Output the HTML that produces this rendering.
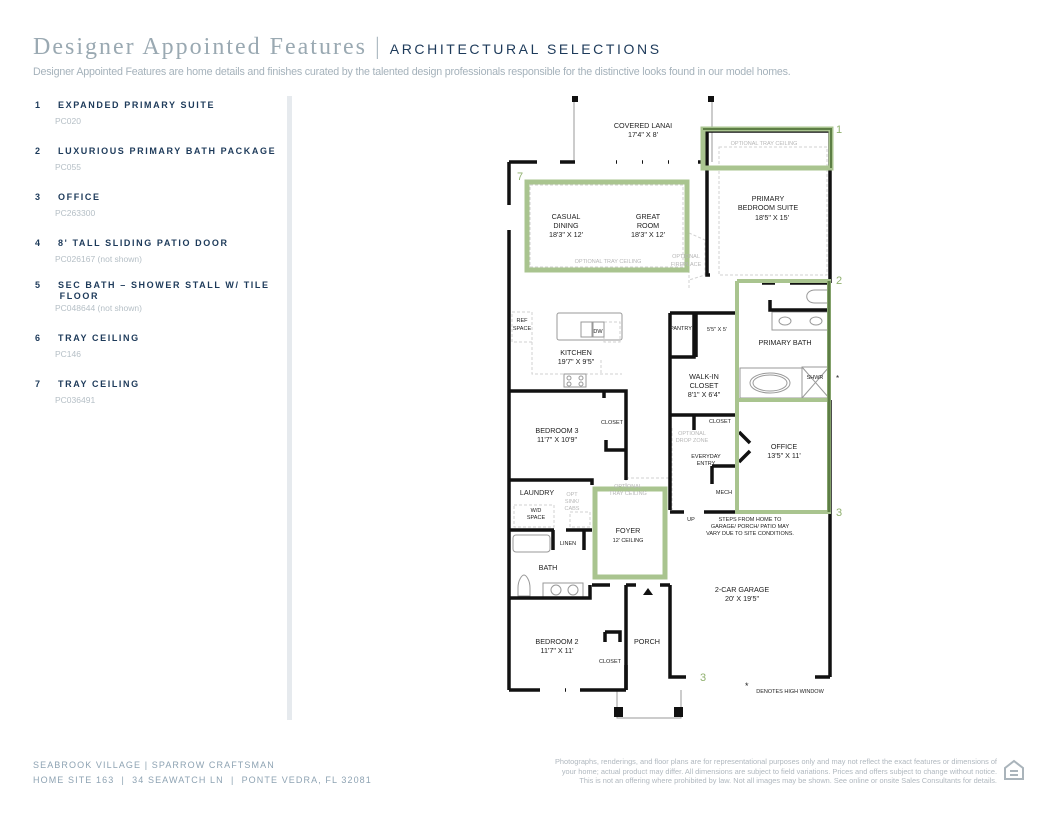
<!DOCTYPE html>
<html><head><meta charset="utf-8"><style>
body{margin:0;background:#fff;width:1055px;height:815px;overflow:hidden;position:relative;font-family:"Liberation Sans",sans-serif}
.t{position:absolute;white-space:nowrap}
.h{font-family:"Liberation Serif",serif;font-size:24px;color:#9aa9b2;letter-spacing:2px;left:33px;top:34px}
.h2{font-family:"Liberation Sans",sans-serif;font-size:14px;color:#1d3a5a;letter-spacing:2.6px}
.sub{left:33px;top:66px;font-size:10.7px;color:#a5b2bb;letter-spacing:-0.2px}
.n{font-size:9px;font-weight:bold;color:#1d3a5a;letter-spacing:1.6px;left:35px}
.c{font-size:8.5px;color:#b5bfc6;left:55px}
.f{font-size:9px;color:#8ea3b3;letter-spacing:1.1px;left:33px}
.d{font-size:7.4px;color:#b0b8bf;right:58px;text-align:right}
</style></head><body>
<div class="t h">Designer Appointed Features <span style="color:#b0bcc4">|</span> <span class="h2">ARCHITECTURAL SELECTIONS</span></div>
<div class="t sub">Designer Appointed Features are home details and finishes curated by the talented design professionals responsible for the distinctive looks found in our model homes.</div>

<div class="t n" style="top:100px">1&nbsp;&nbsp;&nbsp;&nbsp;EXPANDED PRIMARY SUITE</div><div class="t c" style="top:116px">PC020</div>
<div class="t n" style="top:146px">2&nbsp;&nbsp;&nbsp;&nbsp;LUXURIOUS PRIMARY BATH PACKAGE</div><div class="t c" style="top:162px">PC055</div>
<div class="t n" style="top:192px">3&nbsp;&nbsp;&nbsp;&nbsp;OFFICE</div><div class="t c" style="top:208px">PC263300</div>
<div class="t n" style="top:238px">4&nbsp;&nbsp;&nbsp;&nbsp;8' TALL SLIDING PATIO DOOR</div><div class="t c" style="top:254px">PC026167 (not shown)</div>
<div class="t n" style="top:280px;line-height:11px">5&nbsp;&nbsp;&nbsp;&nbsp;SEC BATH – SHOWER STALL W/ TILE<br>&nbsp;&nbsp;&nbsp;&nbsp;&nbsp;&nbsp;FLOOR</div><div class="t c" style="top:303px">PC048644 (not shown)</div>
<div class="t n" style="top:333px">6&nbsp;&nbsp;&nbsp;&nbsp;TRAY CEILING</div><div class="t c" style="top:349px">PC146</div>
<div class="t n" style="top:379px">7&nbsp;&nbsp;&nbsp;&nbsp;TRAY CEILING</div><div class="t c" style="top:395px">PC036491</div>
<div style="position:absolute;left:287px;top:96px;width:5px;height:624px;background:#e6eaee"></div>

<svg style="position:absolute;left:0;top:0" width="1055" height="815" font-family="Liberation Sans,sans-serif">
<g fill="none" stroke="#d2d2d2" stroke-dasharray="3,2" stroke-width="1">
<rect x="719" y="147" width="108" height="128"/>
<rect x="530" y="185" width="153" height="82"/>
<rect x="512" y="312" width="20" height="30"/>
<path d="M532 342V374H622M601 360V374"/>
<path d="M689 205V290M689 233L705 240V275L689 280"/>
<path d="M672 428V510M626 478H670M626 478V487"/>
<rect x="514" y="505" width="40" height="22"/>
<path d="M570 512H590V527H570Z"/>
<rect x="604" y="322" width="16" height="20"/>
</g>
<g fill="none" stroke="#999" stroke-width="1">
<path d="M574 100V162M712 100V162"/>
<path d="M617 690V718H681V690"/>
<rect x="557" y="313" width="65" height="27" rx="2"/>
<rect x="581" y="322" width="11" height="15"/><rect x="593" y="322" width="11" height="15"/>
<rect x="564" y="374" width="22" height="13"/>
<circle cx="569" cy="378" r="2"/><circle cx="581" cy="378" r="2"/><circle cx="569" cy="384" r="2"/><circle cx="581" cy="384" r="2"/>
<rect x="772" y="312" width="56" height="18"/><ellipse cx="785" cy="321" rx="6" ry="4"/><ellipse cx="816" cy="321" rx="6" ry="4"/>
<path d="M828 290H815C804 290 804 303 815 303H828"/>
<rect x="740" y="368" width="62" height="30"/><ellipse cx="770" cy="383" rx="20" ry="10"/><ellipse cx="770" cy="383" rx="17" ry="8"/>
<rect x="802" y="367" width="27" height="31"/><path d="M802 367L829 398M829 367L802 398"/>
<rect x="513" y="535" width="37" height="17" rx="3"/>
<rect x="543" y="583" width="40" height="14"/><circle cx="556" cy="590" r="5"/><circle cx="573" cy="590" r="5"/>
<path d="M518 596V588C518 580 522 575 524 575C526 575 530 580 530 588V596Z"/>
</g>
<g fill="#111">
<rect x="572" y="96" width="6" height="6"/><rect x="708" y="96" width="6" height="6"/>
<rect x="614" y="707" width="9" height="10"/><rect x="674" y="707" width="9" height="10"/>
<path d="M643 595L648 588L653 595Z"/>
</g>
<g fill="none" stroke="#111" stroke-width="3.5">
<path d="M509 162H537M560 162H575M616 162H617M642 162H643M668 162H669M698 162H707"/>
<path d="M509 162V205M509 230V690"/>
<path d="M707 131H830V283M707 131V275H710"/>
<path d="M737 283V400M762 283H775M790 283H830M770 300V310H830"/>
<path d="M670 313H737M670 313V510M694 313V357H670M696 313V357"/>
<path d="M670 415H737M694 415V430M737 400V512M737 400H830"/>
<path d="M670 512H684M704 512H830V677M830 400V512"/>
<path d="M712 466H737M712 466V484M739 432L750 443M739 462L750 451"/>
<path d="M509 391H626V480M604 391V398M606 440V450H626"/>
<path d="M509 480H592V485M509 530H554M566 530H592M553 530V550M584 530V550M509 598H590V585"/>
<path d="M626 585V690M670 585V677H686M815 677H830M592 585H610M626 585H636M660 585H670"/>
<path d="M509 690H540M565 690H566M580 690H626M605 632H620V642M605 632V642M626 665V690"/>
</g>
<g fill="none" stroke="#a9c48f" stroke-width="5">
<rect x="703" y="129" width="128" height="39"/>
<rect x="527" y="182" width="160" height="88"/>
<rect x="595" y="489" width="70" height="88"/>
</g>
<g fill="none" stroke="#a9c48f" stroke-width="4">
<path d="M737 281H829V400"/><path d="M737 281V512H829V400H737"/>
</g>
<path d="M829 281V512" stroke="#5d7e45" stroke-width="3"/>
<path d="M703 129H831V168" stroke="#5d7e45" stroke-width="2" fill="none"/>
<g fill="#8fb06e" font-size="11"><text x="836" y="133">1</text><text x="836" y="284">2</text><text x="836" y="516">3</text><text x="700" y="681">3</text><text x="517" y="180">7</text></g>
<g fill="#222" font-size="7.2" text-anchor="middle">
<text x="643" y="128">COVERED LANAI</text><text x="643" y="137">17'4" X 8'</text>
<text x="768" y="201">PRIMARY</text><text x="768" y="210">BEDROOM SUITE</text><text x="772" y="220">18'5" X 15'</text>
<text x="566" y="219">CASUAL</text><text x="566" y="228">DINING</text><text x="566" y="237">18'3" X 12'</text>
<text x="648" y="219">GREAT</text><text x="648" y="228">ROOM</text><text x="648" y="237">18'3" X 12'</text>
<text x="576" y="355">KITCHEN</text><text x="576" y="364">19'7" X 9'5"</text>
<text x="785" y="345">PRIMARY BATH</text>
<text x="704" y="379">WALK-IN</text><text x="704" y="388">CLOSET</text><text x="704" y="397">8'1" X 6'4"</text>
<text x="784" y="449">OFFICE</text><text x="784" y="458">13'5" X 11'</text>
<text x="557" y="433">BEDROOM 3</text><text x="557" y="442">11'7" X 10'9"</text>
<text x="537" y="495">LAUNDRY</text><text x="548" y="570">BATH</text>
<text x="628" y="533">FOYER</text>
<text x="742" y="592">2-CAR GARAGE</text><text x="742" y="601">20' X 19'5"</text>
<text x="557" y="644">BEDROOM 2</text><text x="557" y="653">11'7" X 11'</text>
<text x="647" y="644">PORCH</text>
</g>
<g fill="#222" font-size="5.5" text-anchor="middle">
<text x="717" y="331">5'5" X 5'</text>
<text x="681" y="330">PANTRY</text><text x="612" y="424">CLOSET</text><text x="720" y="423">CLOSET</text>
<text x="706" y="458">EVERYDAY</text><text x="706" y="465">ENTRY</text><text x="724" y="494">MECH</text>
<text x="536" y="512">W/D</text><text x="536" y="519">SPACE</text><text x="568" y="545">LINEN</text>
<text x="628" y="542">12' CEILING</text><text x="610" y="663">CLOSET</text><text x="815" y="379">SHWR</text>
<text x="598" y="333">DW</text><text x="522" y="322">REF</text><text x="522" y="330">SPACE</text>
<text x="691" y="521">UP</text>
<text x="750" y="521">STEPS FROM HOME TO</text><text x="750" y="528">GARAGE/ PORCH/ PATIO MAY</text><text x="750" y="535">VARY DUE TO SITE CONDITIONS.</text>
<text x="790" y="693">DENOTES HIGH WINDOW</text>
</g>
<text x="745" y="689" font-size="9" fill="#222">*</text><text x="836" y="381" font-size="8" fill="#222">*</text>
<g fill="#b7b7b7" font-size="5.5" text-anchor="middle">
<text x="764" y="145">OPTIONAL TRAY CEILING</text><text x="608" y="263">OPTIONAL TRAY CEILING</text>
<text x="686" y="258">OPTIONAL</text><text x="686" y="266">FIREPLACE</text>
<text x="692" y="435">OPTIONAL</text><text x="692" y="442">DROP ZONE</text>
<text x="628" y="488">OPTIONAL</text><text x="628" y="495">TRAY CEILING</text>
<text x="572" y="496">OPT</text><text x="572" y="503">SINK/</text><text x="572" y="510">CABS</text>
</g>
</svg>

<div class="t f" style="top:760px">SEABROOK VILLAGE | SPARROW CRAFTSMAN</div>
<div class="t f" style="top:775px">HOME SITE 163 &nbsp;| &nbsp;34 SEAWATCH LN &nbsp;| &nbsp;PONTE VEDRA, FL 32081</div>
<div class="t d" style="top:757px;line-height:9.5px">Photographs, renderings, and floor plans are for representational purposes only and may not reflect the exact features or dimensions of<br>your home; actual product may differ. All dimensions are subject to field variations. Prices and offers subject to change without notice.<br>This is not an offering where prohibited by law. Not all images may be shown. See online or onsite Sales Consultants for details.</div>
<svg style="position:absolute;left:1002px;top:758px" width="24" height="26"><path d="M3 10L12 3L21 10V21H3Z" fill="none" stroke="#aab4bb" stroke-width="2"/><rect x="8" y="12" width="8" height="2" fill="#aab4bb"/><rect x="8" y="16" width="8" height="2" fill="#aab4bb"/></svg>
</body></html>
